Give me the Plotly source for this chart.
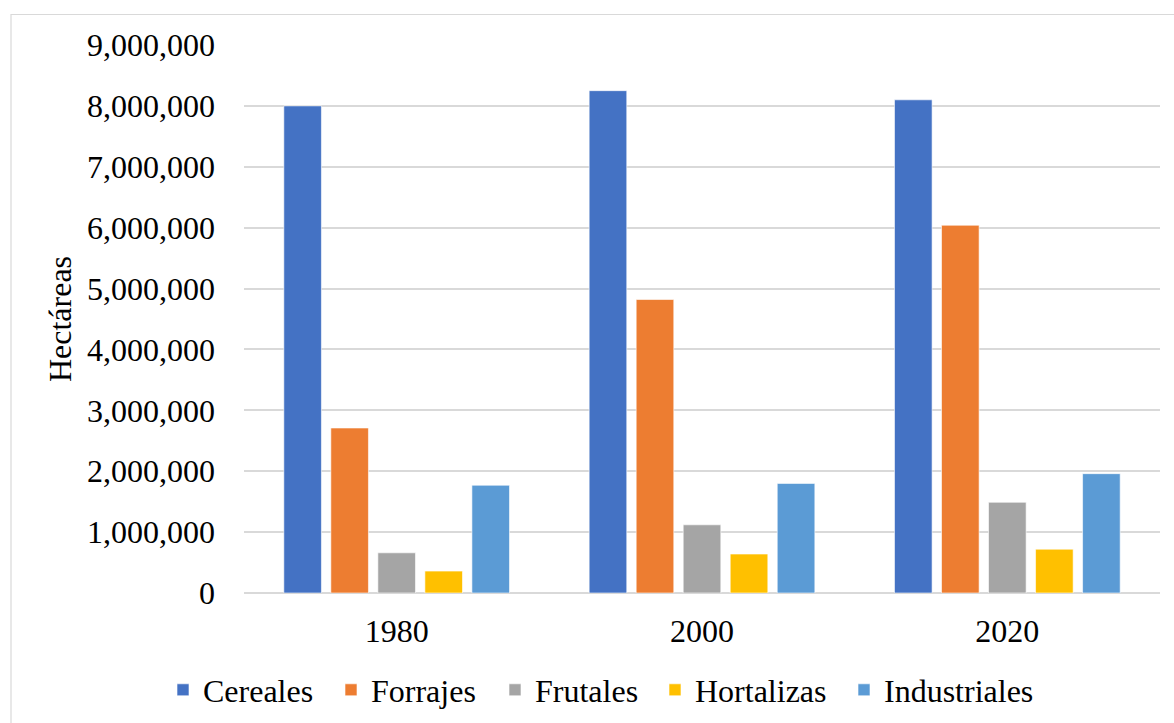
import plotly.graph_objects as go

years = ["1980", "2000", "2020"]
series_names = ["Cereales", "Forrajes", "Frutales", "Hortalizas", "Industriales"]
cereales = [8000000, 8250000, 8100000]
forrajes = [2710000, 4820000, 6040000]
frutales = [660000, 1120000, 1490000]
hortalizas = [360000, 640000, 720000]
industriales = [1770000, 1800000, 1960000]
colors = ["#4472C4", "#ED7D31", "#A5A5A5", "#FFC000", "#5B9BD5"]
y_ticks = [0, 1000000, 2000000, 3000000, 4000000, 5000000, 6000000, 7000000, 8000000, 9000000]

values = [cereales, forrajes, frutales, hortalizas, industriales]
FONT = "Liberation Serif, Times New Roman, serif"
FS = 32

W, H = 1174, 723
L, R, T, B = 244, 14, 45, 130
pw, ph = W - L - R, H - T - B

# left pixel where each legend label text starts
legend_text_px = [203, 371, 535, 695, 884]

fig = go.Figure()
legend_layouts = {}
for i, (name, vals, col) in enumerate(zip(series_names, values, colors)):
    lg = "legend" if i == 0 else f"legend{i + 1}"
    fig.add_trace(go.Bar(
        x=years, y=vals, name=name, legend=lg,
        marker=dict(color=col, line=dict(color="rgba(255,255,255,0.6)", width=1)),
    ))
    legend_layouts[lg] = dict(
        orientation="h",
        xref="container", yref="container",
        x=(legend_text_px[i] - 40) / W, xanchor="left",
        y=1 - 690 / H, yanchor="middle",
        font=dict(family=FONT, size=FS),
        bgcolor="rgba(0,0,0,0)",
    )


def px_to_paper_x(px):
    return (px - L) / pw


def px_to_paper_y(py):
    return (H - B - py) / ph


fig.update_layout(
    width=W, height=H,
    margin=dict(l=L, r=R, t=T, b=B),
    paper_bgcolor="white", plot_bgcolor="white",
    font=dict(family=FONT, size=FS, color="#000000"),
    barmode="group",
    bargap=0.23,
    bargroupgap=0.2,
    showlegend=True,
    xaxis=dict(
        type="category",
        showgrid=False,
        showline=False,
        ticks="",
        ticklabelstandoff=16,
        tickfont=dict(family=FONT, size=FS),
    ),
    yaxis=dict(
        range=[0, 9000000],
        tickvals=y_ticks,
        tickformat=",d",
        showgrid=True,
        gridcolor="#d9d9d9",
        gridwidth=1.5,
        zeroline=True,
        zerolinecolor="#d9d9d9",
        zerolinewidth=1.5,
        showline=False,
        ticks="",
        ticklabelstandoff=28,
        tickfont=dict(family=FONT, size=FS),
        title=dict(text="Hectáreas", font=dict(family=FONT, size=FS), standoff=5),
    ),
    shapes=[dict(
        type="rect", xref="paper", yref="paper",
        x0=px_to_paper_x(11), x1=px_to_paper_x(1300),
        y0=px_to_paper_y(800), y1=px_to_paper_y(14.5),
        line=dict(color="#d9d9d9", width=1.2),
        fillcolor="rgba(0,0,0,0)", layer="below",
    )],
    **legend_layouts,
)

fig.write_html("out.html")
